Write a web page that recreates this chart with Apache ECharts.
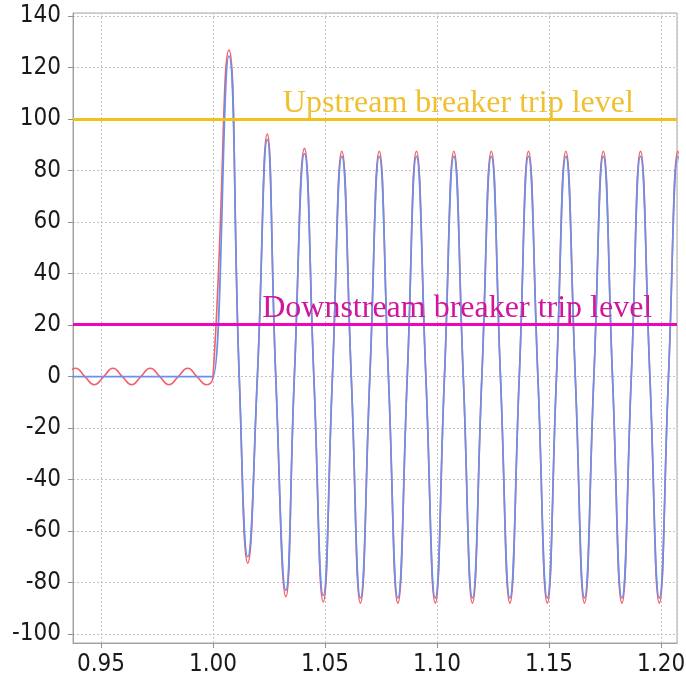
<!DOCTYPE html>
<html><head><meta charset="utf-8">
<script src="https://cdn.jsdelivr.net/npm/echarts@6/dist/echarts.min.js"></script>
<style>html,body{margin:0;padding:0;background:#fff}#c{width:686px;height:683px}</style>
</head><body><div id="c"></div>
<script>
// Tick labels
const xTickLabels = ['0.95', '1.00', '1.05', '1.10', '1.15', '1.20'];
const yTickLabels = ['-100', '-80', '-60', '-40', '-20', '0', '20', '40', '60', '80', '100', '120', '140'];

// Trip levels
const upstreamTripLevel = 100;
const downstreamTripLevel = 20.5;

// Pre-fault current (red trace only; blue is flat at zero)
const preFaultTimes = [0.9345, 0.9387, 0.9428, 0.9470, 0.9512, 0.9553, 0.9595, 0.9637, 0.9678, 0.9720, 0.9762, 0.9803, 0.9845, 0.9887, 0.9928, 0.9970];
const preFaultRed   = [0, 3.2, 0, -3.2, 0, 3.2, 0, -3.2, 0, 3.2, 0, -3.2, 0, 3.2, 0, -3.2];
const preFaultBlueTimes = [0.9300, 0.9990];
const preFaultBlue      = [0, 0];

// Fault current: zero crossings, peaks and troughs
const faultTimes = [1.0000, 1.0071, 1.0117, 1.0155, 1.0198, 1.0242, 1.0280, 1.0325, 1.0363, 1.0408,
  1.0450, 1.0492, 1.0533, 1.0575, 1.0617, 1.0658, 1.0700, 1.0742, 1.0783, 1.0825,
  1.0867, 1.0908, 1.0950, 1.0992, 1.1033, 1.1075, 1.1117, 1.1158, 1.1200, 1.1242,
  1.1283, 1.1325, 1.1367, 1.1408, 1.1450, 1.1492, 1.1533, 1.1575, 1.1617, 1.1658,
  1.1700, 1.1742, 1.1783, 1.1825, 1.1867, 1.1908, 1.1950, 1.1992, 1.2033, 1.2075, 1.2117];
const faultBlue = [0, 124.5, 0, -70, 0, 92, 0, -83, 0, 86.6,
  0, -85, 0, 85.5, 0, -86, 0, 85.5, 0, -86,
  0, 85.5, 0, -86, 0, 85.5, 0, -86, 0, 85.5,
  0, -86, 0, 85.5, 0, -86, 0, 85.5, 0, -86,
  0, 85.5, 0, -86, 0, 85.5, 0, -86, 0, 85.5, 0];
const faultRed = [0, 126.8, 0, -72.5, 0, 94.2, 0, -85.5, 0, 88.6,
  0, -87.5, 0, 87.5, 0, -88, 0, 87.5, 0, -88,
  0, 87.5, 0, -88, 0, 87.5, 0, -88, 0, 87.5,
  0, -88, 0, 87.5, 0, -88, 0, 87.5, 0, -88,
  0, 87.5, 0, -88, 0, 87.5, 0, -88, 0, 87.5, 0];

function pairs(ts, vs) { return ts.map((t, i) => [t, vs[i]]); }
const redData = pairs(preFaultTimes, preFaultRed).concat(pairs(faultTimes, faultRed));
const blueData = pairs(preFaultBlueTimes, preFaultBlue).concat(pairs(faultTimes, faultBlue));

const chart = echarts.init(document.getElementById('c'), null, {renderer: 'canvas'});
const axisFont = {fontFamily: '"DejaVu Sans Condensed", "DejaVu Sans", sans-serif', fontSize: 24, color: '#1a1a1a'};
chart.setOption({
  animation: false,
  backgroundColor: '#ffffff',
  grid: {left: 73, right: 9, top: 13, bottom: 40, show: true, borderColor: '#a8a8a8', borderWidth: 1,
         outerBoundsMode: 'none', containLabel: false},
  xAxis: {
    type: 'value', min: 0.9375, max: 1.2071, splitNumber: 5, minInterval: 0.05, maxInterval: 0.05,
    axisLine: {show: true, onZero: false, lineStyle: {color: '#a0a0a0', width: 1}},
    axisTick: {show: true, length: 5, lineStyle: {color: '#909090'}},
    axisLabel: Object.assign({
      margin: 10, showMinLabel: false, showMaxLabel: false,
      formatter: v => { const s = v.toFixed(2); return xTickLabels.includes(s) ? s : ''; }
    }, axisFont),
    splitLine: {show: true, lineStyle: {color: '#c4c4c4', width: 1, type: [2, 2]}}
  },
  yAxis: {
    type: 'value', min: -103.5, max: 141.2, splitNumber: 12, minInterval: 20, maxInterval: 20,
    axisLine: {show: true, onZero: false, lineStyle: {color: '#a0a0a0', width: 1}},
    axisTick: {show: true, length: 5, lineStyle: {color: '#909090'}},
    axisLabel: Object.assign({
      margin: 12, showMinLabel: false, showMaxLabel: false,
      formatter: v => { const s = String(Math.round(v)); return yTickLabels.includes(s) && Math.abs(v - Math.round(v)) < 1e-6 ? s : ''; }
    }, axisFont),
    splitLine: {show: true, lineStyle: {color: '#c4c4c4', width: 1, type: [2, 2]}}
  },
  series: [
    {
      name: 'Current', type: 'line', smooth: true, showSymbol: false, clip: true, z: 2,
      lineStyle: {color: '#f2606a', width: 1.6}, data: redData
    },
    {
      name: 'Fundamental', type: 'line', smooth: true, showSymbol: false, clip: true, z: 3,
      lineStyle: {color: '#6a90ea', width: 1.7}, data: blueData
    },
    {
      name: 'Trip levels', type: 'line', data: [], z: 4,
      markLine: {
        silent: true, symbol: 'none', animation: false,
        label: {show: false},
        data: [
          {yAxis: upstreamTripLevel, lineStyle: {color: '#f2c21a', width: 3, type: 'solid'}},
          {yAxis: downstreamTripLevel, lineStyle: {color: '#ea08ba', width: 3, type: 'solid'}}
        ]
      },
      markPoint: {
        silent: true, symbol: 'rect', symbolSize: 1, itemStyle: {color: 'rgba(0,0,0,0)'},
        label: {show: true, position: 'inside', fontFamily: 'Liberation Serif', fontSize: 32},
        data: [
          {coord: [1.1095, 106], label: {formatter: 'Upstream breaker trip level', color: '#f0c030'}},
          {coord: [1.1090, 26.5], label: {formatter: 'Downstream breaker trip level', color: '#d0169c'}}
        ]
      }
    }
  ]
});
</script>
</body></html>
